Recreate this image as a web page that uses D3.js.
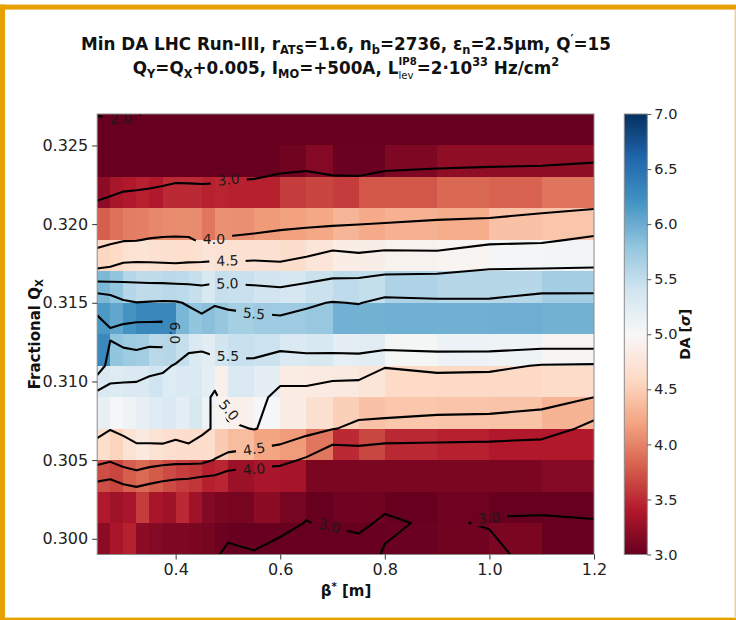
<!DOCTYPE html>
<html>
<head>
<meta charset="utf-8">
<script src="https://cdn.jsdelivr.net/npm/d3@7"></script>
<style>
  html, body { margin: 0; padding: 0; background: #ffffff; }
  svg { display: block; font-family: "DejaVu Sans", sans-serif; }
</style>
</head>
<body>
<svg id="chart" width="736" height="620"></svg>
<script>
// β* scan nodes [m]
const betaStar = [0.25, 0.275, 0.3, 0.325, 0.35, 0.375, 0.4, 0.425, 0.45, 0.475, 0.5,
                  0.55, 0.6, 0.65, 0.7, 0.75, 0.8, 0.9, 1.0, 1.1, 1.2];

// fractional horizontal tune nodes
const qxNodes = [0.299, 0.301, 0.303, 0.305, 0.307, 0.309, 0.311, 0.313,
                 0.315, 0.317, 0.319, 0.321, 0.323, 0.325, 0.327];

// minimum DA [σ], one row per Qx node (bottom to top), one value per β* node
const da = [
  [3.2, 3.35, 3.45, 3.2, 3.15, 3.12, 3.12, 3.1, 3.08, 3.03, 2.95, 2.97, 2.9, 2.8, 2.75, 2.9, 3.02, 3.05, 3.1, 2.85, 2.85],
  [3.4, 3.3, 3.35, 3.6, 3.35, 3.3, 3.5, 3.3, 3.15, 3.1, 3.085, 3.2, 3.08, 2.99, 3.04, 3.05, 2.96, 3.04, 2.975, 2.95, 2.97],
  [3.7, 3.65, 3.79, 3.86, 3.77, 3.68, 3.61, 3.57, 3.44, 3.48, 3.28, 3.35, 3.33, 3.1, 3.1, 3.1, 3.1, 3.1, 3.1, 3.15, 3.2],
  [4.65, 4.55, 4.7, 4.8, 4.71, 4.66, 4.63, 4.63, 4.63, 4.48, 4.37, 4.2, 4.15, 3.93, 3.5, 3.66, 3.49, 3.45, 3.4, 3.4, 3.35],
  [5.15, 5.02, 5.09, 5.17, 5.25, 5.31, 5.2, 5.33, 5.1, 4.95, 4.9, 5.02, 4.85, 4.67, 4.52, 4.41, 4.45, 4.43, 4.42, 4.31, 3.82],
  [5.3, 5.27, 5.3, 5.31, 5.4, 5.27, 5.3, 5.3, 5.2, 4.9, 5.3, 5.2, 4.83, 4.82, 4.8, 4.74, 4.6, 4.59, 4.59, 4.62, 4.5],
  [6.3, 5.8, 5.73, 5.7, 5.55, 5.57, 5.47, 5.3, 5.22, 5.38, 5.45, 5.43, 5.31, 5.33, 5.19, 5.22, 5.03, 5.12, 5.1, 4.97, 4.95],
  [6.15, 6.05, 6.2, 6.3, 6.3, 6.3, 5.92, 5.8, 5.84, 5.77, 5.68, 5.72, 5.72, 5.76, 5.96, 5.95, 5.97, 5.97, 5.98, 5.95, 5.97],
  [5.9, 5.8, 5.58, 5.51, 5.53, 5.55, 5.54, 5.46, 5.32, 5.47, 5.45, 5.39, 5.35, 5.44, 5.52, 5.48, 5.62, 5.58, 5.57, 5.69, 5.69],
  [4.57, 4.6, 4.7, 4.72, 4.69, 4.67, 4.65, 4.68, 4.74, 4.7, 4.69, 4.69, 4.64, 4.74, 4.85, 4.87, 4.93, 4.95, 5.04, 5.055, 5.06],
  [3.8, 3.9, 3.97, 3.98, 4.03, 4.05, 4.06, 4.05, 3.93, 4.08, 4.07, 4.14, 4.18, 4.22, 4.32, 4.24, 4.29, 4.26, 4.41, 4.44, 4.57],
  [3.2, 3.35, 3.4, 3.45, 3.4, 3.5, 3.5, 3.5, 3.45, 3.47, 3.45, 3.45, 3.6, 3.65, 3.6, 3.75, 3.75, 3.85, 3.82, 3.92, 3.99],
  [2.37, 2.45, 2.65, 2.67, 2.77, 2.8, 2.88, 2.87, 2.87, 2.88, 2.93, 2.97, 3.05, 3.15, 3.02, 3.02, 3.12, 3.22, 3.22, 3.22, 3.25],
  [2.4, 2.4, 2.45, 2.45, 2.5, 2.5, 2.5, 2.5, 2.5, 2.5, 2.5, 2.5, 2.6, 2.36, 2.62, 2.35, 2.49, 2.4, 2.53, 2.6, 2.7],
  [1.97, 1.96, 1.96, 1.97, 2.05, 2.2, 2.3, 2.3, 2.3, 2.3, 2.3, 2.3, 2.35, 2.3, 2.3, 2.3, 2.3, 2.3, 2.3, 2.3, 2.3]
];

// iso-DA levels drawn as contour lines
const contourLevels = [2.0, 3.0, 4.0, 4.5, 5.0, 5.5, 6.0];

// inline contour label anchors (β*, Qx) and text angle in degrees
const contourLabels = [
  { level: 2.0, beta: 0.2955, qx: 0.32672, angle: -2 },
  { level: 3.0, beta: 0.5011, qx: 0.32284, angle: -6 },
  { level: 4.0, beta: 0.4733, qx: 0.31906, angle: 0 },
  { level: 4.5, beta: 0.4991, qx: 0.31769, angle: -2 },
  { level: 5.0, beta: 0.4991, qx: 0.31623, angle: -2 },
  { level: 5.5, beta: 0.5498, qx: 0.31432, angle: 5 },
  { level: 6.0, beta: 0.3997, qx: 0.31308, angle: 90, gap: 26 },
  { level: 5.5, beta: 0.5001, qx: 0.31162, angle: 0 },
  { level: 5.0, beta: 0.5020, qx: 0.30819, angle: 50 },
  { level: 4.5, beta: 0.5498, qx: 0.30571, angle: -8 },
  { level: 4.0, beta: 0.5498, qx: 0.30443, angle: -5 },
  { level: 3.0, beta: 0.6942, qx: 0.30081, angle: 14 },
  { level: 3.0, beta: 0.9992, qx: 0.30132, angle: -5 }
];

const xTicks = [0.4, 0.6, 0.8, 1.0, 1.2];
const yTicks = [0.300, 0.305, 0.310, 0.315, 0.320, 0.325];
const cbTicks = [3.0, 3.5, 4.0, 4.5, 5.0, 5.5, 6.0, 6.5, 7.0];
const daRange = [3.0, 7.0];

// ---------------------------------------------------------------------------
const W = 736, H = 620;
const area = { left: 97.2, right: 594, top: 114, bottom: 554.5 };
const cbBox = { left: 624.3, right: 647.3, top: 114, bottom: 554.5 };

const svg = d3.select("#chart");
const defs = svg.append("defs");

const x = d3.scaleLinear().domain([0.25, 1.2]).range([area.left, area.right]);
const y = d3.scaleLinear().domain([0.299, 0.327]).range([area.bottom, area.top]);

// RdBu, linear between the eleven ColorBrewer anchors
const rdbu = d3.schemeRdBu[11];
const color = d3.scaleLinear()
  .domain(d3.range(11).map(k => daRange[0] + k * (daRange[1] - daRange[0]) / 10))
  .range(rdbu)
  .interpolate(d3.interpolateRgb)
  .clamp(true);

// grid-index -> data coordinate (piecewise linear through the nodes)
const idxToBeta = d3.scaleLinear().domain(d3.range(betaStar.length)).range(betaStar);
const idxToQx = d3.scaleLinear().domain(d3.range(qxNodes.length)).range(qxNodes);

// ---------------------------------------------------------------------------
// outer frame
const frame = svg.append("g");
frame.append("rect").attr("x", 0).attr("y", 4.6).attr("width", W).attr("height", 5).attr("fill", "#e6a000");
frame.append("rect").attr("x", 0).attr("y", 4.6).attr("width", 5).attr("height", H - 4.6).attr("fill", "#e6a000");
frame.append("rect").attr("x", 0).attr("y", 617.6).attr("width", W).attr("height", 2.4).attr("fill", "#e6a000");
frame.append("rect").attr("x", 734.6).attr("y", 9.6).attr("width", 1.4).attr("height", 608).attr("fill", "#f3cf86");

// ---------------------------------------------------------------------------
// plot area
defs.append("clipPath").attr("id", "plotClip")
  .append("rect")
  .attr("x", area.left).attr("y", area.top)
  .attr("width", area.right - area.left).attr("height", area.bottom - area.top);

const plot = svg.append("g").attr("clip-path", "url(#plotClip)");

// heat map cells: cell [β_i, β_i+1] x [Qx_j, Qx_j+1] takes the value at (β_i, Qx_j)
const cells = [];
for (let j = 0; j < qxNodes.length - 1; j++) {
  for (let i = 0; i < betaStar.length - 1; i++) {
    cells.push({ i, j, v: da[j][i] });
  }
}
plot.append("g").selectAll("rect")
  .data(cells)
  .join("rect")
  .attr("x", d => x(betaStar[d.i]))
  .attr("width", d => x(betaStar[d.i + 1]) - x(betaStar[d.i]))
  .attr("y", d => y(qxNodes[d.j + 1]))
  .attr("height", d => y(qxNodes[d.j]) - y(qxNodes[d.j + 1]))
  .attr("fill", d => color(d.v))
  .attr("shape-rendering", "crispEdges");

// marching squares on the node grid, joined into polylines
function isoLines(grid, level) {
  const nj = grid.length, ni = grid[0].length;
  const segs = [];
  const up = v => v >= level;
  for (let j = 0; j < nj - 1; j++) {
    for (let i = 0; i < ni - 1; i++) {
      const v0 = grid[j][i], v1 = grid[j][i + 1], v2 = grid[j + 1][i + 1], v3 = grid[j + 1][i];
      const edges = [
        { id: `h${j}_${i}`, a: v0, b: v1, p: t => [i + t, j] },        // bottom
        { id: `v${j}_${i + 1}`, a: v1, b: v2, p: t => [i + 1, j + t] }, // right
        { id: `h${j + 1}_${i}`, a: v3, b: v2, p: t => [i + t, j + 1] }, // top
        { id: `v${j}_${i}`, a: v0, b: v3, p: t => [i, j + t] }          // left
      ];
      const hit = edges.map(e => up(e.a) !== up(e.b)
        ? { id: e.id, pt: e.p((level - e.a) / (e.b - e.a)) } : null);
      const list = hit.filter(h => h);
      if (list.length === 2) {
        segs.push([list[0], list[1]]);
      } else if (list.length === 4) {
        const centre = (v0 + v1 + v2 + v3) / 4;
        if (up(centre) === up(v0)) {
          segs.push([hit[0], hit[1]]);
          segs.push([hit[2], hit[3]]);
        } else {
          segs.push([hit[0], hit[3]]);
          segs.push([hit[1], hit[2]]);
        }
      }
    }
  }
  const byEdge = new Map();
  segs.forEach((s, k) => s.forEach(h => {
    if (!byEdge.has(h.id)) byEdge.set(h.id, []);
    byEdge.get(h.id).push(k);
  }));
  const used = new Array(segs.length).fill(false);
  const lines = [];
  const walk = k0 => {
    used[k0] = true;
    let pts = [segs[k0][0], segs[k0][1]];
    for (let dir = 0; dir < 2; dir++) {
      let cur = pts[pts.length - 1];
      while (true) {
        const nxt = (byEdge.get(cur.id) || []).find(k => !used[k]);
        if (nxt === undefined) break;
        used[nxt] = true;
        const s = segs[nxt];
        cur = s[0].id === cur.id ? s[1] : s[0];
        pts.push(cur);
      }
      pts.reverse();
    }
    lines.push(pts.map(h => h.pt));
  };
  segs.forEach((s, k) => {
    if (!used[k] && s.some(h => byEdge.get(h.id).length === 1)) walk(k);
  });
  segs.forEach((s, k) => { if (!used[k]) walk(k); });
  return lines;
}

const lineGen = d3.line()
  .x(p => x(idxToBeta(p[0])))
  .y(p => y(idxToQx(p[1])));

const contourPaths = [];
contourLevels.forEach(level => {
  isoLines(da, level).forEach(pts => contourPaths.push({ level, pts }));
});

// gaps under inline labels
const mask = defs.append("mask").attr("id", "labelGaps")
  .attr("maskUnits", "userSpaceOnUse")
  .attr("x", 0).attr("y", 0).attr("width", W).attr("height", H);
mask.append("rect").attr("x", 0).attr("y", 0).attr("width", W).attr("height", H).attr("fill", "#fff");

plot.append("g")
  .attr("mask", "url(#labelGaps)")
  .selectAll("path")
  .data(contourPaths)
  .join("path")
  .attr("d", d => lineGen(d.pts))
  .attr("fill", "none")
  .attr("stroke", "#000")
  .attr("stroke-width", 2.1)
  .attr("stroke-linejoin", "round")
  .attr("stroke-linecap", "butt");

const labelFont = 14;
const labelG = plot.append("g");
contourLabels.forEach(l => {
  const cx = x(l.beta), cy = y(l.qx);
  const tr = `translate(${cx},${cy}) rotate(${l.angle})`;
  const t = labelG.append("text")
    .attr("transform", tr)
    .attr("text-anchor", "middle")
    .attr("dy", "0.36em")
    .attr("font-size", labelFont)
    .attr("fill", "#1a1a1a")
    .text(d3.format(".1f")(l.level));
  const w = t.node().getComputedTextLength();
  const gw = w + 14, gh = l.gap || 15;
  mask.append("rect")
    .attr("transform", tr)
    .attr("x", -gw / 2).attr("y", -gh / 2)
    .attr("width", gw).attr("height", gh)
    .attr("fill", "#000");
});

// axes frame
svg.append("rect")
  .attr("x", area.left).attr("y", area.top)
  .attr("width", area.right - area.left).attr("height", area.bottom - area.top)
  .attr("fill", "none").attr("stroke", "#8a8a8a").attr("stroke-width", 1);

// ---------------------------------------------------------------------------
// axes
const tickFont = 16;
const xAxis = svg.append("g")
  .attr("transform", `translate(0,${area.bottom})`)
  .call(d3.axisBottom(x).tickValues(xTicks).tickFormat(d3.format(".1f")).tickSize(5).tickSizeOuter(0).tickPadding(4));
const yAxis = svg.append("g")
  .attr("transform", `translate(${area.left},0)`)
  .call(d3.axisLeft(y).tickValues(yTicks).tickFormat(d3.format(".3f")).tickSize(5).tickSizeOuter(0).tickPadding(4));
[xAxis, yAxis].forEach(a => {
  a.select(".domain").remove();
  a.selectAll(".tick line").attr("stroke", "#333").attr("stroke-width", 1);
  a.selectAll(".tick text").attr("font-size", tickFont).attr("fill", "#222")
    .attr("font-family", "DejaVu Sans");
});

// ---------------------------------------------------------------------------
// colour bar
const cb = d3.scaleLinear().domain(daRange).range([cbBox.bottom, cbBox.top]);
const grad = defs.append("linearGradient").attr("id", "cbGrad")
  .attr("x1", 0).attr("y1", 1).attr("x2", 0).attr("y2", 0);
d3.range(0, 1.0001, 0.025).forEach(t => {
  grad.append("stop").attr("offset", t)
    .attr("stop-color", color(daRange[0] + t * (daRange[1] - daRange[0])));
});
svg.append("rect")
  .attr("x", cbBox.left).attr("y", cbBox.top)
  .attr("width", cbBox.right - cbBox.left).attr("height", cbBox.bottom - cbBox.top)
  .attr("fill", "url(#cbGrad)")
  .attr("stroke", "#8a8a8a").attr("stroke-width", 1);
const cbAxis = svg.append("g")
  .attr("transform", `translate(${cbBox.right},0)`)
  .call(d3.axisRight(cb).tickValues(cbTicks).tickFormat(d3.format(".1f")).tickSize(4).tickSizeOuter(0).tickPadding(3));
cbAxis.select(".domain").remove();
cbAxis.selectAll(".tick line").attr("stroke", "#555");
cbAxis.selectAll(".tick text").attr("font-size", 14.5).attr("fill", "#222").attr("font-family", "DejaVu Sans");

// ---------------------------------------------------------------------------
// rich text helper: parts of {t, shift (em of base size), size (fraction), weight}
function rich(sel, parts, fs) {
  let cur = 0;
  parts.forEach(p => {
    const target = (p.shift || 0) * fs;
    const ts = sel.append("tspan")
      .attr("font-size", (p.size || 1) * fs)
      .attr("dy", target - cur)
      .text(p.t);
    if (p.weight) ts.attr("font-weight", p.weight);
    cur = target;
    p.node = ts.node();
  });
  return parts;
}
const SUB = { shift: 0.24, size: 0.68 };
const SUP = { shift: -0.42, size: 0.68 };

// title
const titleFs = 16.8;
const t1 = svg.append("text").attr("x", 346).attr("y", 50).attr("text-anchor", "middle")
  .attr("font-weight", "bold").attr("fill", "#111");
rich(t1, [
  { t: "Min DA LHC Run-III, r" }, { t: "ATS", ...SUB },
  { t: "=1.6, n" }, { t: "b", ...SUB },
  { t: "=2736, ε" }, { t: "n", ...SUB },
  { t: "=2.5μm, Q" }, { t: "′", ...SUP },
  { t: "=15" }
], titleFs);

const t2 = svg.append("text").attr("x", 346).attr("y", 73.5).attr("text-anchor", "middle")
  .attr("font-weight", "bold").attr("fill", "#111");
const p2 = rich(t2, [
  { t: "Q" }, { t: "Y", ...SUB },
  { t: "=Q" }, { t: "X", ...SUB },
  { t: "+0.005, I" }, { t: "MO", ...SUB },
  { t: "=+500A, L" },
  { t: "IP8", shift: -0.5, size: 0.6 },
  { t: "lev", shift: 0.3, size: 0.6, weight: "normal" },
  { t: "=2·10" }, { t: "33", ...SUP },
  { t: " Hz/cm" }, { t: "2", ...SUP }
], titleFs);
// stack the "lev" subscript under "IP8"
{
  const supN = p2[7].node, subN = p2[8].node;
  const wSup = supN.getComputedTextLength(), wSub = subN.getComputedTextLength();
  d3.select(subN).attr("dx", -wSup);
  d3.select(p2[9].node).attr("dx", Math.max(0, wSup - wSub));
}

// axis titles
const xl = svg.append("text").attr("x", 346).attr("y", 596).attr("text-anchor", "middle")
  .attr("font-weight", "bold").attr("fill", "#111");
rich(xl, [{ t: "β" }, { t: "*", ...SUP }, { t: " [m]" }], 15);

const yl = svg.append("text")
  .attr("transform", `translate(39.5,${(area.top + area.bottom) / 2}) rotate(-90)`)
  .attr("text-anchor", "middle").attr("font-weight", "bold").attr("fill", "#111");
rich(yl, [{ t: "Fractional Q" }, { t: "X", ...SUB }], 15);

const cl = svg.append("text")
  .attr("transform", `translate(689.5,${(area.top + area.bottom) / 2}) rotate(-90)`)
  .attr("text-anchor", "middle").attr("font-weight", "bold").attr("fill", "#111")
  .attr("font-size", 14);
cl.append("tspan").text("DA [");
cl.append("tspan").attr("font-style", "italic").text("σ");
cl.append("tspan").text("]");
</script>
</body>
</html>
